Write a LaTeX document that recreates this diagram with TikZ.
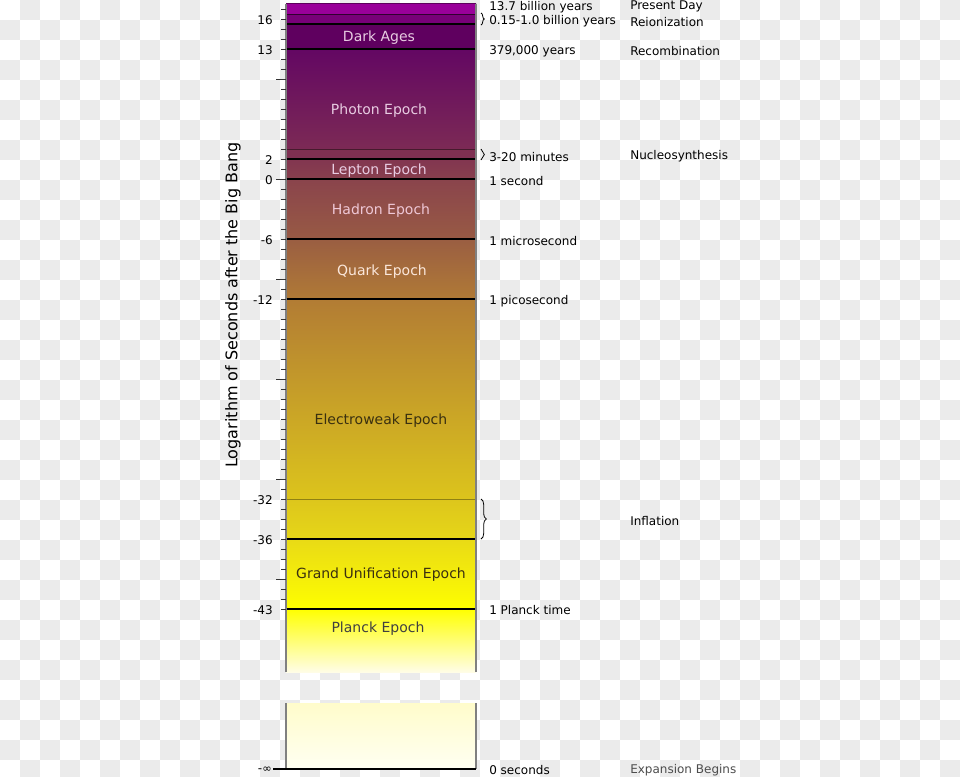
\documentclass[tikz,border=0pt]{standalone}
\usepackage{fontspec}
\setmainfont{DejaVu Sans}
\usetikzlibrary{decorations.pathreplacing}

\definecolor{checkgrey}{HTML}{EBEBEB}
\definecolor{epochpale}{RGB}{232,204,226}
\definecolor{epochdark}{RGB}{58,48,16}
\definecolor{bandA}{HTML}{990099}
\definecolor{bandB}{HTML}{780078}
\definecolor{darkages}{HTML}{5F005F}
\definecolor{photonT}{HTML}{630763}
\definecolor{photonB}{HTML}{7C2A55}
\definecolor{nucleo}{HTML}{7F3052}
\definecolor{leptonT}{HTML}{823650}
\definecolor{leptonB}{HTML}{88404E}
\definecolor{hadronT}{HTML}{8A444C}
\definecolor{hadronB}{HTML}{985A44}
\definecolor{quarkT}{HTML}{9A5E42}
\definecolor{quarkB}{HTML}{B07A36}
\definecolor{ewT}{HTML}{B27C34}
\definecolor{ewB}{HTML}{DCC41C}
\definecolor{inflT}{HTML}{DDC61C}
\definecolor{inflB}{HTML}{E6D618}
\definecolor{gutT}{HTML}{E9DA16}
\definecolor{gutB}{HTML}{FEFE00}
\definecolor{planckB}{HTML}{FFFDE6}
\definecolor{voidT}{HTML}{FFFCCB}
\definecolor{voidB}{HTML}{FFFFF2}

\begin{document}
\begin{tikzpicture}[x=0.75pt,y=-0.75pt,
  epoch/.style={yshift=-1.3pt,font=\fontsize{10.5}{12}\selectfont},
  timelab/.style={anchor=west,inner sep=0pt,yshift=-0.9pt,font=\fontsize{9}{11}\selectfont},
  eventlab/.style={anchor=west,inner sep=0pt,yshift=-0.9pt,font=\fontsize{9}{11}\selectfont},
  ticklab/.style={anchor=east,inner sep=0pt,yshift=-0.8pt,font=\fontsize{9}{11}\selectfont},
  tick/.style={draw=black!80,line width=0.7pt},
  sepline/.style={draw=black,line width=0.9pt},
  faintline/.style={line width=0.6pt},
  edgeline/.style={draw=black!50,line width=0.8pt},
  bracemark/.style={decorate,draw=black,line width=0.6pt}]

\useasboundingbox (0,0) rectangle (960,776);

% --- transparency checkerboard ---
\foreach \j in {0,...,38}{
  \pgfmathtruncatemacro\s{mod(\j+1,2)}
  \pgfmathtruncatemacro\t{\s+2}
  \foreach \i in {\s,\t,...,47}
    \fill[checkgrey] (20*\i,20*\j) rectangle ++(20,20);
}

% --- the epoch bar (y = 179 - 10*log t) ---
\foreach \vt/\vb/\ca/\cb in {
  17.55/16.5/bandA/bandA, 16.5/15.5/bandB/bandB, 15.5/13/darkages/darkages,
  13/3/photonT/photonB, 3/2/nucleo/nucleo, 2/0/leptonT/leptonB,
  0/-6/hadronT/hadronB, -6/-12/quarkT/quarkB, -12/-32/ewT/ewB,
  -32/-36/inflT/inflB, -36/-43/gutT/gutB}
  \shade[top color=\ca,bottom color=\cb] (286,{179-10*\vt}) rectangle (476,{179-10*\vb});
\shade[top color=yellow,bottom color=planckB] (286,609) rectangle (476,672);
\shade[top color=voidT,bottom color=voidB] (286,703) rectangle (476,769);

\foreach \v in {15.5,13,2,0,-6,-12,-36,-43}
  \draw[sepline] (286,{179-10*\v}) -- (476,{179-10*\v});
\draw[faintline,draw=black!60!bandB] (286,14) -- (476,14);
\draw[faintline,draw=black!45!nucleo] (286,149) -- (476,149);
\draw[faintline,draw=black!35!inflT] (286,499) -- (476,499);

\draw[edgeline] (286,3.5) -- (286,672) (286,703) -- (286,769);
\draw[edgeline] (476,3.5) -- (476,672) (476,703) -- (476,769);
\draw[faintline,draw=black!40!bandA] (286,3.5) -- (476,3.5);
\draw[sepline] (273,769) -- (476,769);

% --- axis ticks and labels ---
\foreach \v in {-43,...,17}{
  \pgfmathsetmacro\len{ifthenelse(mod(\v,10)==0,10,5)}
  \draw[tick] ({286-\len},{179-10*\v}) -- (286,{179-10*\v});
}
\foreach \v [count=\k] in {16,13,2,0,-6,-12,-32,-36,-43}
  \node[ticklab] (tl\k) at (273,{179-10*\v}) {\v};
\node[ticklab] (tlinf) at (272,769) {-{\fontsize{8.5}{9}\selectfont ∞}};
\node[rotate=90,font=\fontsize{12}{14}\selectfont] (axtitle) at (233,305)
  {Logarithm of Seconds after the Big Bang};

% --- epoch names ---
\node[epoch,text=epochpale] (dark) at (379,36) {Dark Ages};
\node[epoch,text=epochpale] (photon) at (379,109) {Photon Epoch};
\node[epoch,text=epochpale] (lepton) at (379,169) {Lepton Epoch};
\node[epoch,text=epochpale!70!pink] (hadron) at (381,209) {Hadron Epoch};
\node[epoch,text=epochpale!60!orange!30!white] (quark) at (382,270) {Quark Epoch};
\node[epoch,text=epochdark] (ew) at (381,419) {Electroweak Epoch};
\node[epoch,text=epochdark] (gut) at (381,573) {Grand Unification Epoch};
\node[epoch,text=black!75] (planck) at (378,627) {Planck Epoch};

% --- times after the Big Bang ---
\foreach \y/\t [count=\k] in {
  5.5/13.7 billion years, 19.5/0.15-1.0 billion years, 50/{379,000 years},
  156/3-20 minutes, 180/1 second, 240/1 microsecond, 300/1 picosecond,
  609/1 Planck time, 769/0 seconds}
  \node[timelab] (time\k) at (489,\y) {\t};

\draw[bracemark,decoration={brace,amplitude=2.5pt}] (481,13) -- (481,25);
\draw[bracemark,decoration={brace,amplitude=2.5pt}] (481,149) -- (481,160);
\draw[bracemark,decoration={brace,amplitude=4pt}] (481,499) -- (481,539);

% --- events ---
\foreach \y/\t [count=\k] in {
  5.5/Present Day, 21/Reionization, 50/Recombination,
  155/Nucleosynthesis, 520/Inflation}
  \node[eventlab] (event\k) at (630,\y) {\t};
\node[eventlab,text=black!70] (event6) at (630,769) {Expansion Begins};

\end{tikzpicture}
\end{document}
